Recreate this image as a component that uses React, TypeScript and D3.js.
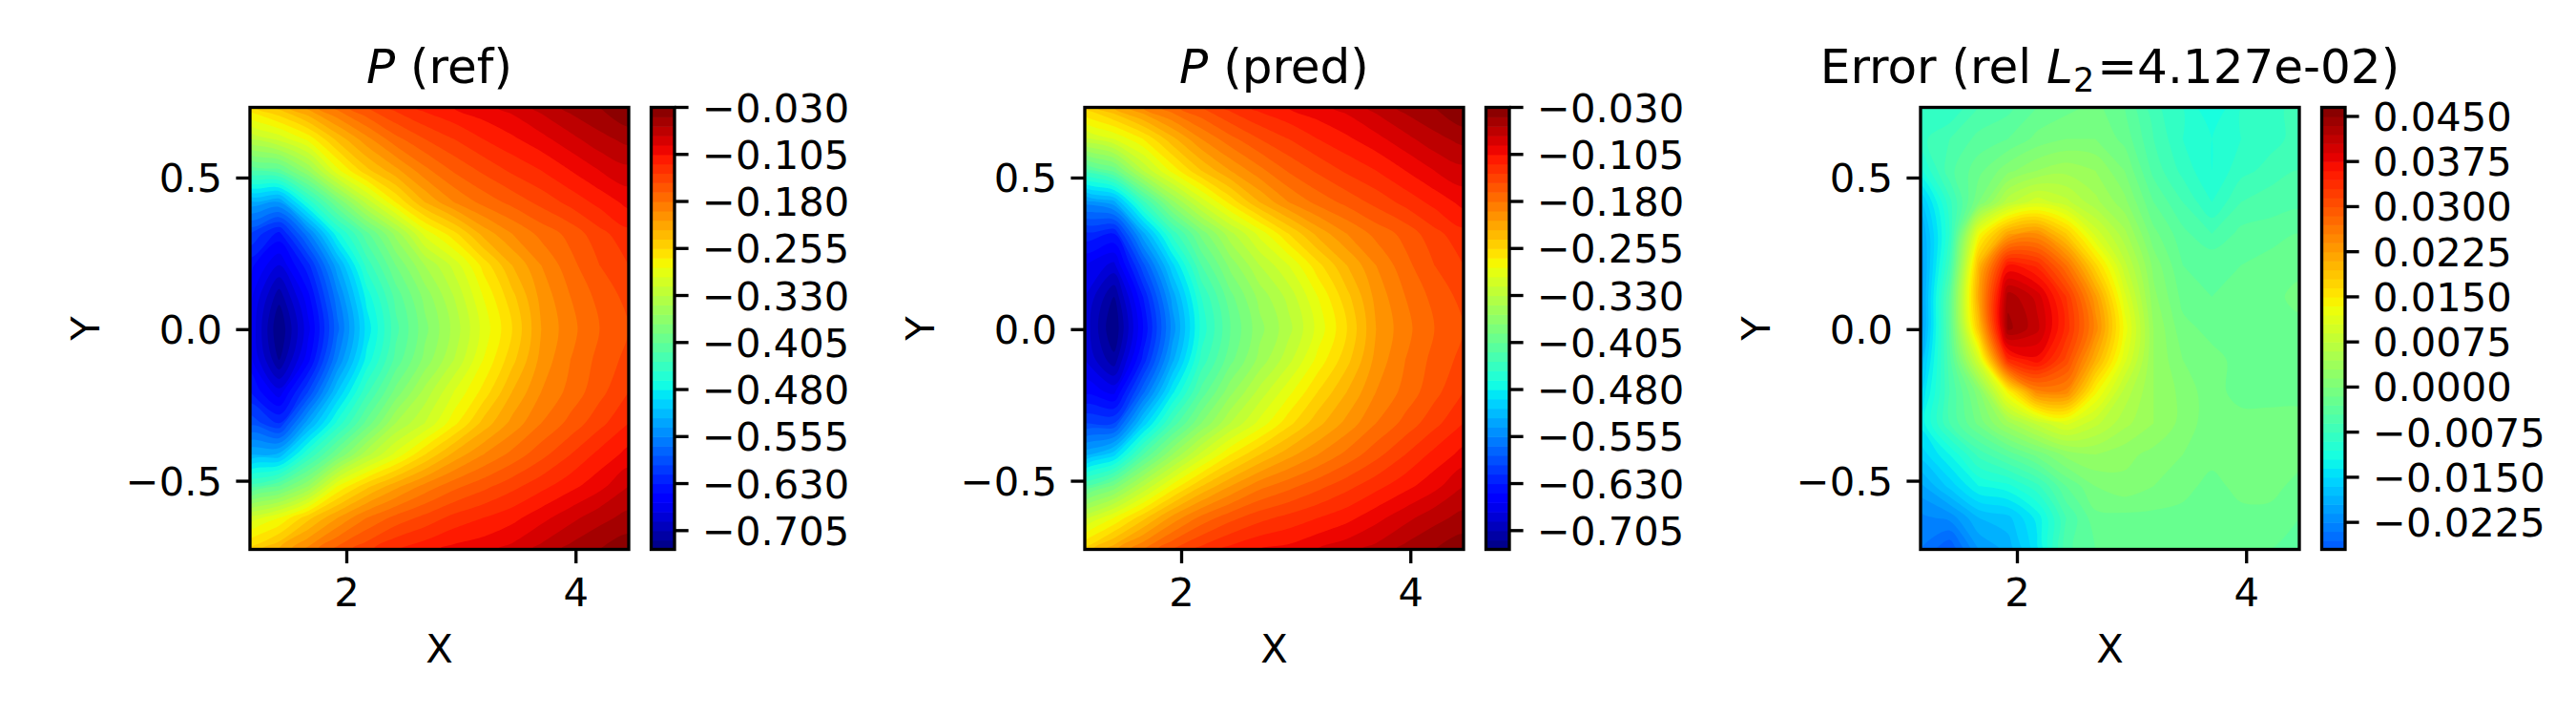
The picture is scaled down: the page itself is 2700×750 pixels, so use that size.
import React from "react";
import * as d3 from "d3";

const W = 2700, H = 750;
const FONT = "'DejaVu Sans', sans-serif";

const xExtent = [1.155, 4.46];
const yExtent = [0.733, -0.725];

const pRefValues = [
  [-.26,-.235,-.205,-.175,-.15,-.13,-.115,-.105,-.095,-.085,-.07,-.055,-.045,-.03],
  [-.33,-.31,-.28,-.235,-.20,-.17,-.15,-.135,-.12,-.108,-.095,-.08,-.065,-.055],
  [-.42,-.41,-.36,-.29,-.245,-.215,-.185,-.163,-.147,-.132,-.12,-.105,-.09,-.08],
  [-.53,-.54,-.46,-.39,-.325,-.27,-.225,-.195,-.175,-.16,-.145,-.13,-.115,-.10],
  [-.60,-.635,-.56,-.47,-.41,-.355,-.295,-.26,-.22,-.195,-.175,-.16,-.14,-.125],
  [-.64,-.675,-.62,-.53,-.445,-.39,-.345,-.31,-.265,-.225,-.195,-.17,-.15,-.135],
  [-.655,-.715,-.65,-.56,-.475,-.415,-.37,-.33,-.285,-.245,-.205,-.18,-.16,-.145],
  [-.66,-.735,-.665,-.575,-.49,-.425,-.38,-.34,-.295,-.255,-.21,-.185,-.165,-.15],
  [-.655,-.72,-.65,-.555,-.475,-.415,-.37,-.33,-.285,-.245,-.205,-.18,-.16,-.145],
  [-.63,-.67,-.60,-.51,-.44,-.385,-.34,-.30,-.265,-.225,-.195,-.175,-.155,-.135],
  [-.59,-.615,-.53,-.46,-.40,-.345,-.315,-.275,-.235,-.205,-.18,-.16,-.14,-.12],
  [-.525,-.52,-.45,-.39,-.335,-.295,-.255,-.22,-.195,-.175,-.155,-.135,-.115,-.10],
  [-.43,-.405,-.36,-.285,-.245,-.215,-.19,-.17,-.155,-.14,-.125,-.11,-.095,-.075],
  [-.31,-.285,-.245,-.21,-.18,-.16,-.145,-.13,-.12,-.11,-.095,-.08,-.065,-.055],
  [-.25,-.225,-.19,-.16,-.14,-.12,-.11,-.10,-.095,-.085,-.07,-.055,-.045,-.035],
];

const pPredValues = [
  [-.25,-.225,-.195,-.17,-.15,-.13,-.115,-.105,-.095,-.085,-.07,-.055,-.045,-.03],
  [-.32,-.30,-.27,-.23,-.195,-.17,-.15,-.135,-.12,-.108,-.095,-.08,-.065,-.055],
  [-.43,-.40,-.33,-.28,-.24,-.21,-.185,-.163,-.147,-.132,-.12,-.105,-.09,-.08],
  [-.55,-.53,-.44,-.365,-.31,-.265,-.225,-.195,-.175,-.16,-.145,-.13,-.115,-.10],
  [-.62,-.63,-.53,-.445,-.385,-.335,-.295,-.255,-.22,-.195,-.175,-.16,-.14,-.125],
  [-.66,-.68,-.59,-.50,-.42,-.37,-.33,-.30,-.26,-.225,-.195,-.17,-.15,-.135],
  [-.675,-.72,-.63,-.535,-.45,-.395,-.355,-.325,-.285,-.245,-.205,-.18,-.16,-.145],
  [-.68,-.735,-.645,-.55,-.46,-.405,-.365,-.335,-.295,-.255,-.21,-.185,-.165,-.15],
  [-.675,-.715,-.625,-.53,-.445,-.395,-.355,-.32,-.28,-.245,-.205,-.18,-.16,-.145],
  [-.65,-.665,-.575,-.485,-.415,-.365,-.325,-.29,-.255,-.225,-.195,-.175,-.155,-.135],
  [-.60,-.60,-.505,-.43,-.375,-.33,-.295,-.26,-.23,-.205,-.18,-.16,-.14,-.12],
  [-.53,-.50,-.42,-.36,-.31,-.27,-.24,-.215,-.195,-.175,-.155,-.135,-.115,-.10],
  [-.42,-.385,-.33,-.28,-.24,-.21,-.185,-.17,-.155,-.14,-.125,-.11,-.095,-.075],
  [-.32,-.285,-.245,-.205,-.175,-.155,-.14,-.13,-.12,-.11,-.095,-.08,-.065,-.055],
  [-.25,-.215,-.18,-.15,-.13,-.115,-.105,-.10,-.09,-.08,-.07,-.055,-.045,-.035],
];

const errorValues = [
  [-.0075,-.009,-.006,-.005,-.003,-.002,-.001,-.003,-.007,-.009,-.012,-.009,-.008,-.007],
  [-.008,-.006,-.004,-.003,-.001,0,0,-.002,-.006,-.009,-.0105,-.009,-.008,-.007],
  [-.011,-.005,-.002,.001,.003,.004,.003,0,-.005,-.008,-.0105,-.008,-.007,-.006],
  [-.017,-.008,.000,.007,.010,.008,.005,.002,-.003,-.006,-.009,-.006,-.005,-.005],
  [-.02,-.009,.013,.022,.024,.018,.010,.005,-.001,-.004,-.006,-.004,-.004,-.003],
  [-.021,-.007,.020,.036,.034,.027,.017,.008,.001,-.003,-.003,-.003,-.002,-.002],
  [-.021,-.004,.022,.043,.040,.033,.023,.011,.002,-.002,-.003,-.002,-.002,-.001],
  [-.021,-.004,.019,.044,.041,.034,.025,.013,.003,-.001,-.002,-.002,-.002,-.002],
  [-.018,-.005,.010,.034,.037,.031,.021,.011,.003,0,-.001,-.002,-.002,-.002],
  [-.015,-.006,.001,.014,.025,.025,.014,.007,.003,.001,-.001,-.002,-.002,-.002],
  [-.013,-.006,-.001,.004,.008,.011,.008,.005,.003,.001,-.001,-.001,-.001,-.001],
  [-.016,-.012,-.007,-.004,-.001,.002,.003,.002,.001,0,-.001,-.001,-.001,-.001],
  [-.02,-.016,-.012,-.011,-.008,-.003,0,.001,0,-.001,-.002,-.001,-.001,-.002],
  [-.023,-.022,-.018,-.017,-.013,-.006,-.002,-.002,-.002,-.002,-.002,-.002,-.002,-.003],
  [-.024,-.027,-.021,-.019,-.014,-.005,-.003,-.002,-.002,-.003,-.003,-.003,-.003,-.003],
];

const pLevelRange = [-0.735, -0.03];
const pLevelStep = 0.015;
const pTicks = [-0.705, -0.63, -0.555, -0.48, -0.405, -0.33, -0.255, -0.18, -0.105, -0.03];
const errLevelRange = [-0.027, 0.0465];
const errLevelStep = 0.0015;
const errTicks = [-0.0225, -0.015, -0.0075, 0, 0.0075, 0.015, 0.0225, 0.03, 0.0375, 0.045];
const xTicks = [2, 4];
const yTicks = [-0.5, 0, 0.5];

function jet(t: number) {
  const c = (lo: number[][]) => {
    for (let i = 1; i < lo.length; i++) {
      if (t <= lo[i][0]) {
        const [a, b] = [lo[i - 1], lo[i]];
        return a[1] + ((t - a[0]) / (b[0] - a[0])) * (b[1] - a[1]);
      }
    }
    return lo[lo.length - 1][1];
  };
  const r = c([[0, 0], [0.35, 0], [0.66, 1], [0.89, 1], [1, 0.5]]);
  const g = c([[0, 0], [0.125, 0], [0.375, 1], [0.64, 1], [0.91, 0], [1, 0]]);
  const b = c([[0, 0.5], [0.11, 1], [0.34, 1], [0.65, 0], [1, 0]]);
  return d3.rgb(r * 255, g * 255, b * 255).formatHex();
}

const minus = (s: string) => s.replace("-", "\u2212");

const ringLine = d3.line().curve(d3.curveCatmullRomClosed.alpha(0.5));

type PanelProps = {
  left: number;
  values: number[][];
  levelRange: number[];
  step: number;
  norm: number[];
  ticks: number[];
  tickFmt: string;
  title: React.ReactNode;
  id: string;
};

const TOP = 112.5, BOTTOM = 575.5, PW = 397, CB_GAP = 23.5, CB_W = 24.5;
const FS = 41.67, TITLE_FS = 50, TICK = 14.6, SW = 3.33;

function Panel({ left, values, levelRange, step, norm, ticks, tickFmt, title, id }: PanelProps) {
  const right = left + PW;
  const ny = values.length, nx = values[0].length;
  const x = d3.scaleLinear().domain(xExtent).range([left, right]);
  const y = d3.scaleLinear().domain(yExtent).range([TOP, BOTTOM]);
  const gx = d3.scaleLinear().domain([0.5, nx - 0.5]).range([left, right]);
  const gy = d3.scaleLinear().domain([0.5, ny - 0.5]).range([TOP, BOTTOM]);
  const nLevels = Math.round((levelRange[1] - levelRange[0]) / step);
  const levels = d3.range(nLevels + 1).map((i) => levelRange[0] + i * step);
  const color = d3.scaleLinear().domain(norm).range([0, 1]);
  const bandColor = (i: number) => jet(color((levels[i] + levels[i + 1]) / 2));

  const contours = d3.contours().size([nx, ny]).thresholds(levels.slice(0, -1));
  const polys = contours(values.flat());

  const pathOf = (mp: any) =>
    mp.coordinates
      .flat()
      .map((ring: number[][]) => {
        const pts = ring.slice(0, -1).map((p) => [gx(p[0]), gy(p[1])] as [number, number]);
        return ringLine(pts);
      })
      .join("");

  const cbLeft = right + CB_GAP;
  const cbRight = cbLeft + CB_W;
  const cb = d3.scaleLinear().domain(levelRange).range([BOTTOM, TOP]);

  return (
    <g>
      <clipPath id={id}>
        <rect x={left} y={TOP} width={PW} height={BOTTOM - TOP} />
      </clipPath>
      <g clipPath={`url(#${id})`}>
        <rect x={left} y={TOP} width={PW} height={BOTTOM - TOP} fill={bandColor(0)} />
        {polys.map((p: any, i: number) => (
          <path key={i} d={pathOf(p)} fill={bandColor(i)} fillRule="evenodd" />
        ))}
      </g>
      <rect x={left} y={TOP} width={PW} height={BOTTOM - TOP} fill="none" stroke="#000" strokeWidth={SW} />
      {xTicks.map((t) => (
        <g key={t}>
          <line x1={x(t)} x2={x(t)} y1={BOTTOM} y2={BOTTOM + TICK} stroke="#000" strokeWidth={SW} />
          <text x={x(t)} y={635} textAnchor="middle" fontSize={FS}>{t}</text>
        </g>
      ))}
      {yTicks.map((t) => (
        <g key={t}>
          <line x1={left - TICK} x2={left} y1={y(t)} y2={y(t)} stroke="#000" strokeWidth={SW} />
          <text x={left - 29} y={y(t) + 15} textAnchor="end" fontSize={FS}>{minus(t.toFixed(1))}</text>
        </g>
      ))}
      <text x={(left + right) / 2} y={694} textAnchor="middle" fontSize={FS}>X</text>
      <text transform={`translate(${left - 158},${(TOP + BOTTOM) / 2}) rotate(-90)`} textAnchor="middle" fontSize={FS}>Y</text>
      <text x={(left + right) / 2} y={87} textAnchor="middle" fontSize={TITLE_FS}>{title}</text>
      {levels.slice(0, -1).map((l, i) => (
        <rect key={i} x={cbLeft} width={CB_W} y={cb(levels[i + 1])} height={cb(l) - cb(levels[i + 1]) + 0.6} fill={bandColor(i)} />
      ))}
      <rect x={cbLeft} y={TOP} width={CB_W} height={BOTTOM - TOP} fill="none" stroke="#000" strokeWidth={SW} />
      {ticks.map((t) => (
        <g key={t}>
          <line x1={cbRight} x2={cbRight + TICK} y1={cb(t)} y2={cb(t)} stroke="#000" strokeWidth={SW} />
          <text x={cbRight + 29} y={cb(t) + 15} fontSize={FS}>{minus(t.toFixed(tickFmt.length))}</text>
        </g>
      ))}
    </g>
  );
}

export default function App() {
  return (
    <svg width={W} height={H} viewBox={`0 0 ${W} ${H}`} fontFamily={FONT} fill="#000"
      style={{ position: "absolute", left: 0, top: 0, background: "#fff" }}>
      <Panel id="c1" left={262} values={pRefValues} levelRange={pLevelRange} step={pLevelStep} norm={pLevelRange} ticks={pTicks} tickFmt="000"
        title={<><tspan fontStyle="italic">P</tspan> (ref)</>} />
      <Panel id="c2" left={1137} values={pPredValues} levelRange={pLevelRange} step={pLevelStep} norm={pLevelRange} ticks={pTicks} tickFmt="000"
        title={<><tspan fontStyle="italic">P</tspan> (pred)</>} />
      <Panel id="c3" left={2013} values={errorValues} levelRange={errLevelRange} step={errLevelStep} norm={[-0.0465, 0.0465]} ticks={errTicks} tickFmt="0000"
        title={<>Error (rel <tspan fontStyle="italic">L</tspan><tspan fontSize={35} dy={9}>2</tspan><tspan dy={-9} dx={3}>=4.127e-02)</tspan></>} />
    </svg>
  );
}
